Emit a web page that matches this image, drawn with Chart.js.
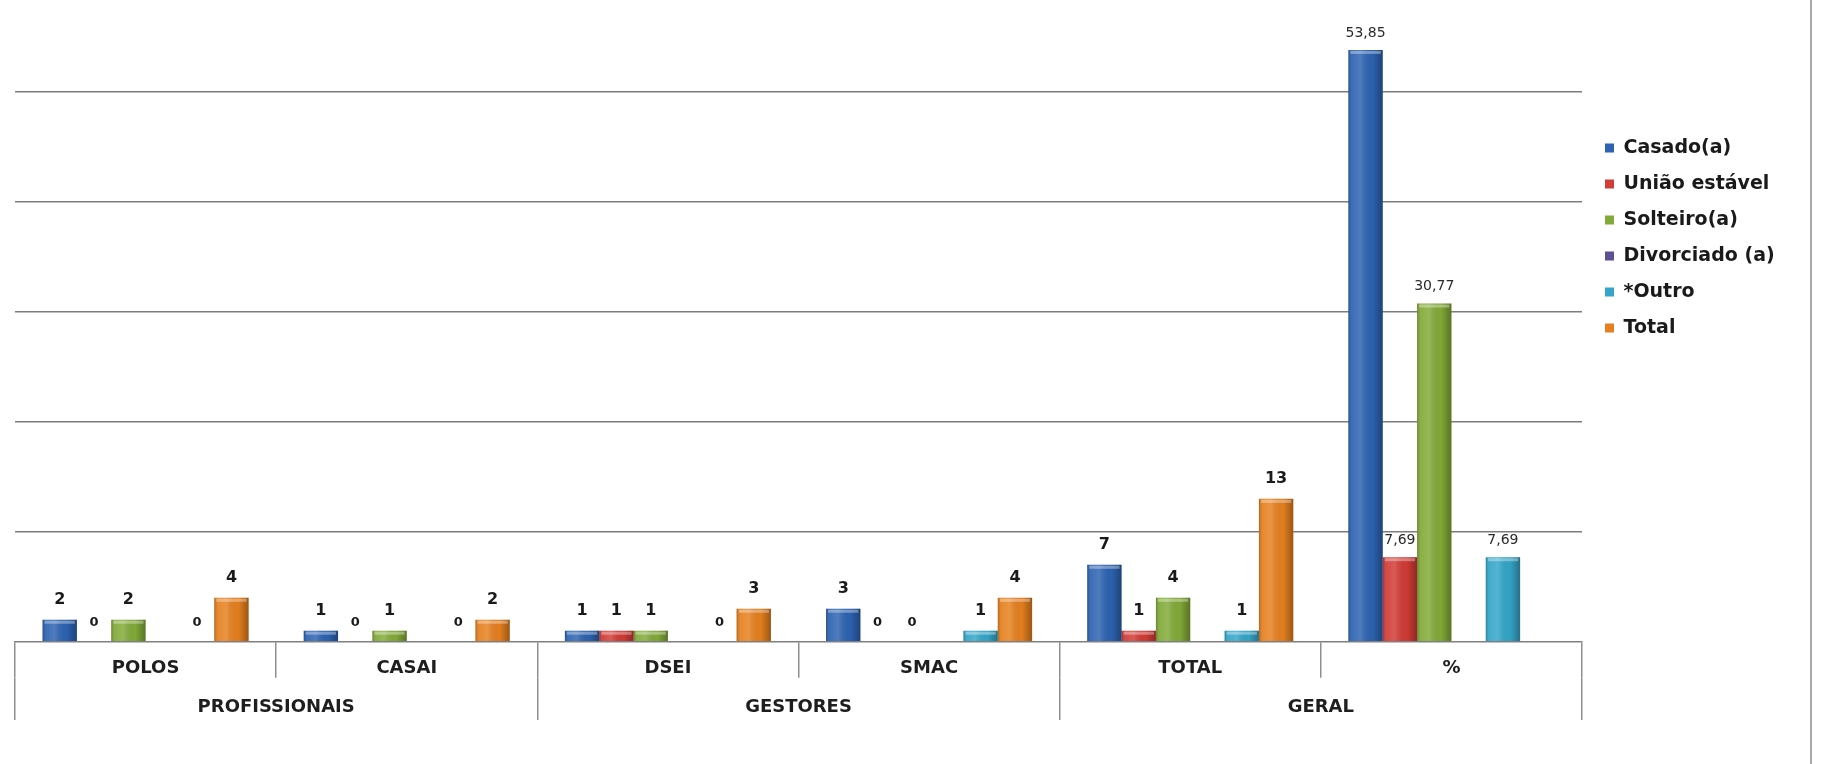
<!DOCTYPE html>
<html>
<head>
<meta charset="utf-8">
<script src="https://cdn.jsdelivr.net/npm/chart.js@4.4.1/dist/chart.umd.min.js"></script>
<style>
html,body{margin:0;padding:0;background:#fff;overflow:hidden}
#wrap{position:relative;width:1838px;height:764px;background:#fff}
#frame{position:absolute;left:1810px;top:0;width:2px;height:764px;background:#a8a8a8}
</style>
</head>
<body>
<div id="wrap"><canvas id="c" width="1838" height="764"></canvas><div id="frame"></div></div>
<script>
// ---- data ----
const categories = ['POLOS', 'CASAI', 'DSEI', 'SMAC', 'TOTAL', '%'];
const groups = ['PROFISSIONAIS', 'GESTORES', 'GERAL'];
const seriesNames = ['Casado(a)', 'União estável', 'Solteiro(a)', 'Divorciado (a)', '*Outro', 'Total'];
const casado = [2, 1, 1, 3, 7, 53.85];
const uniao = [0, 0, 1, 0, 1, 7.69];
const solteiro = [2, 1, 1, 0, 4, 30.77];
const divorciado = [null, null, null, null, null, null];
const outro = [0, 0, 0, 1, 1, 7.69];
const total = [4, 2, 3, 4, 13, null];
const gridValues = [10, 20, 30, 40, 50];

const seriesValues = [casado, uniao, solteiro, divorciado, outro, total];
const seriesColors = ['#2D63B2', '#D23B36', '#82AA38', '#5C4F94', '#34A6C9', '#E6801F'];
const percentIndex = categories.indexOf('%');

// legend sizing (so the plot area keeps its place)
const legendFontSize = 19;
const legendPad = 17;
const legendBox = 9;
const mctx = document.createElement('canvas').getContext('2d');
mctx.font = 'bold ' + legendFontSize + 'px "DejaVu Sans"';
const maxText = Math.max(...seriesNames.map(s => mctx.measureText(s).width));
const legendW = legendPad + legendBox + legendFontSize / 2 + maxText + 10;
const spacer = 6;
const plotRight = 1582;
const padRight = Math.max(0, 1838 - plotRight - spacer - legendW);

const shade = {
  id: 'shade',
  afterDatasetsDraw(chart) {
    const ctx = chart.ctx;
    chart.data.datasets.forEach((ds, di) => {
      const meta = chart.getDatasetMeta(di);
      meta.data.forEach((el, i) => {
        if (ds.data[i] == null) return;
        const p = el.getProps(['x', 'y', 'base', 'width'], true);
        const h = p.base - p.y;
        if (h <= 0.5) return;
        const l = p.x - p.width / 2;
        const g = ctx.createLinearGradient(l, 0, l + p.width, 0);
        g.addColorStop(0, 'rgba(0,0,0,0.22)');
        g.addColorStop(0.12, 'rgba(255,255,255,0.08)');
        g.addColorStop(0.35, 'rgba(255,255,255,0.16)');
        g.addColorStop(0.7, 'rgba(0,0,0,0.02)');
        g.addColorStop(1, 'rgba(0,0,0,0.32)');
        ctx.save();
        ctx.fillStyle = g;
        ctx.fillRect(l, p.y, p.width, h);
        ctx.fillStyle = 'rgba(255,255,255,0.35)';
        ctx.fillRect(l + 2, p.y + 1, p.width - 4, Math.min(3, h / 3));
        ctx.restore();
      });
    });
  }
};

const valueLabels = {
  id: 'valueLabels',
  afterDatasetsDraw(chart) {
    const ctx = chart.ctx;
    ctx.save();
    ctx.textAlign = 'center';
    ctx.textBaseline = 'middle';
    chart.data.datasets.forEach((ds, di) => {
      const meta = chart.getDatasetMeta(di);
      meta.data.forEach((el, i) => {
        const v = ds.data[i];
        if (v == null) return;
        const p = el.getProps(['x', 'y'], true);
        let txt, off;
        if (i === percentIndex) {
          ctx.font = '14px "DejaVu Sans"';
          ctx.fillStyle = '#2a2a2a';
          txt = v.toFixed(2).replace('.', ',');
          off = 17;
        } else if (v === 0) {
          ctx.font = 'bold 13px "DejaVu Sans"';
          ctx.fillStyle = '#1a1a1a';
          txt = '0';
          off = 19;
        } else {
          ctx.font = 'bold 16px "DejaVu Sans"';
          ctx.fillStyle = '#1a1a1a';
          txt = String(v);
          off = 20;
        }
        ctx.fillText(txt, p.x, p.y - off);
      });
    });
    ctx.restore();
  }
};

const datasets = seriesNames.map((name, k) => ({
  label: name,
  data: seriesValues[k],
  backgroundColor: seriesColors[k],
  borderWidth: 0,
  barPercentage: 1.0,
  categoryPercentage: 0.789,
  xAxisID: 'x',
  yAxisID: 'y'
}));

const axisFont = { family: 'DejaVu Sans', weight: 'bold', size: 18 };

new Chart(document.getElementById('c'), {
  type: 'bar',
  data: { labels: categories, datasets: datasets },
  options: {
    responsive: false,
    animation: false,
    devicePixelRatio: 1,
    events: [],
    layout: { padding: { left: 15, right: padRight, top: 15.3, bottom: 42 } },
    plugins: {
      tooltip: { enabled: false },
      legend: {
        position: 'right',
        align: 'start',
        title: { display: true, text: ' ', padding: 0, font: { size: 10, lineHeight: '106.2px' } },
        labels: {
          boxWidth: legendBox,
          boxHeight: legendBox,
          padding: legendPad,
          color: '#1a1a1a',
          font: { family: 'DejaVu Sans', weight: 'bold', size: legendFontSize }
        }
      }
    },
    scales: {
      x: {
        type: 'category',
        position: 'bottom',
        weight: 0,
        offset: true,
        afterFit: s => { s.height = 36.3; },
        grid: { display: true, drawOnChartArea: false, drawTicks: true, tickLength: 36, offset: true, color: '#8f8f8f', lineWidth: 1.5 },
        border: { display: true, color: '#808080', width: 1.5 },
        ticks: { autoSkip: false, maxRotation: 0, padding: -20.5, color: '#1e1e1e', font: axisFont }
      },
      x2: {
        type: 'category',
        labels: groups,
        position: 'bottom',
        weight: 1,
        offset: true,
        afterFit: s => { s.height = 44; },
        grid: { display: true, drawOnChartArea: false, drawTicks: true, tickLength: 42, offset: true, color: '#8f8f8f', lineWidth: 1.5 },
        border: { display: false },
        ticks: { autoSkip: false, maxRotation: 0, padding: -23.5, color: '#1e1e1e', font: axisFont }
      },
      y: {
        type: 'linear',
        position: 'left',
        min: 0,
        max: 57,
        ticks: { display: false, stepSize: 10 },
        border: { display: false },
        grid: {
          drawTicks: false,
          lineWidth: 1.5,
          color: c => (c.tick && gridValues.includes(c.tick.value)) ? '#7c7c7c' : 'rgba(0,0,0,0)'
        }
      },
      yR: {
        type: 'linear',
        position: 'right',
        display: true,
        afterFit: s => { s.width = spacer; },
        ticks: { display: false },
        grid: { display: false },
        border: { display: false }
      }
    }
  },
  plugins: [shade, valueLabels]
});
</script>
</body>
</html>
